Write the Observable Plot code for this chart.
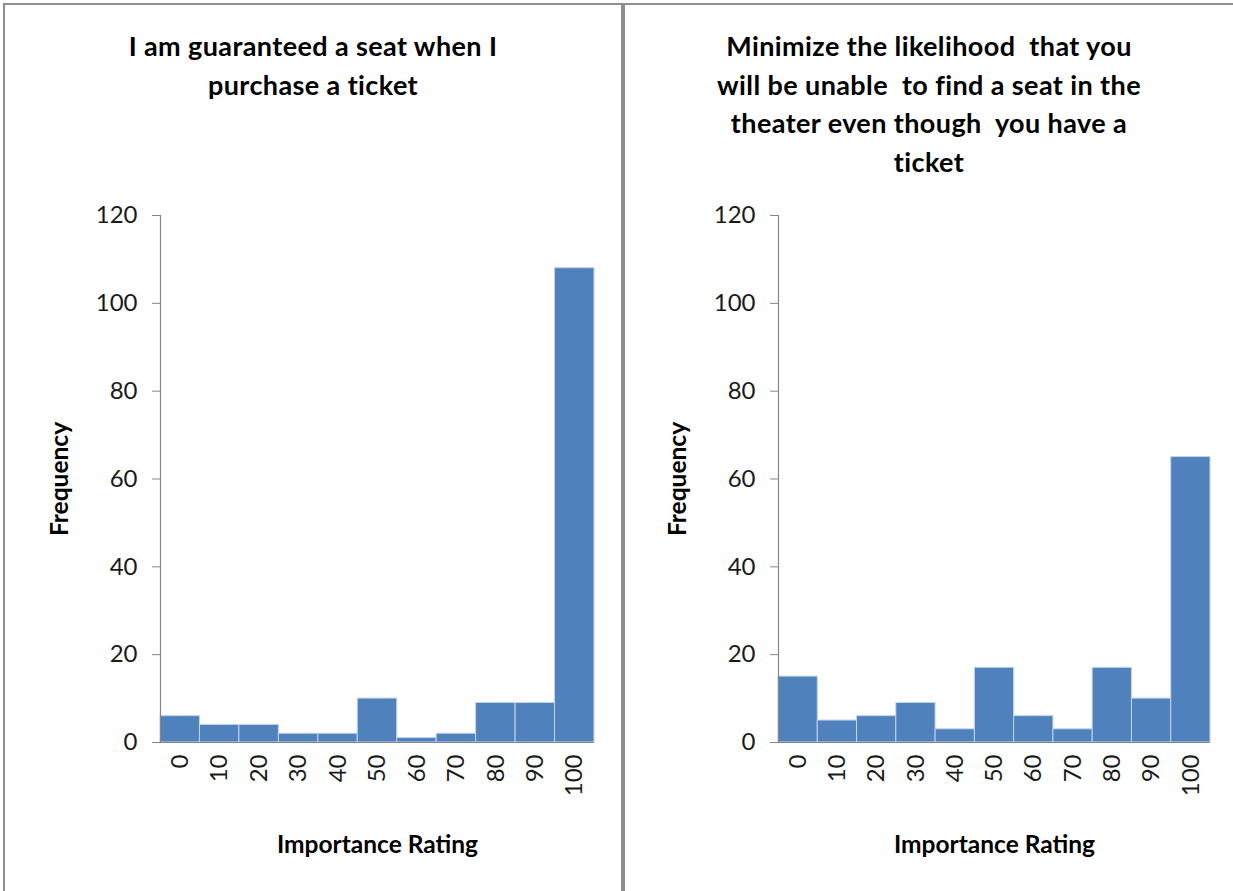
<!DOCTYPE html>
<html>
<head>
<meta charset="utf-8">
<script src="https://cdn.jsdelivr.net/npm/d3@7"></script>
<script src="https://cdn.jsdelivr.net/npm/@observablehq/plot@0.6"></script>
<style>
  html, body { margin: 0; padding: 0; background: #fff; width: 1233px; height: 891px; overflow: hidden; }
  .panel {
    position: absolute; top: 3px; height: 900px; box-sizing: border-box;
    border: 2px solid #8e8e8e; background: #fff; overflow: hidden;
  }
  .title {
    height: 190px; box-sizing: border-box; padding-top: 22px;
    font-family: Lato, "Open Sans", sans-serif; font-weight: bold; font-size: 27px;
    letter-spacing: 0.4px; line-height: 38.5px; text-align: center; color: #000;
  }
  .panel svg { display: block; }
</style>
</head>
<body>
<div id="left" class="panel" style="left:3px; width:620px;">
  <div class="title">I am guaranteed a seat when I<br>purchase a ticket</div>
</div>
<div id="right" class="panel" style="left:623px; width:612px;">
  <div class="title">Minimize the likelihood &nbsp;that you<br>will be unable &nbsp;to find a seat in the<br>theater even though &nbsp;you have a<br>ticket</div>
</div>
<script>
// Importance rating bins (0–100 in steps of 10)
const ratings = [0, 10, 20, 30, 40, 50, 60, 70, 80, 90, 100];
// Frequencies: "I am guaranteed a seat when I purchase a ticket"
const seatGuaranteed = [6, 4, 4, 2, 2, 10, 1, 2, 9, 9, 108];
// Frequencies: "Minimize the likelihood that you will be unable to find a seat..."
const findSeat = [15, 5, 6, 9, 3, 17, 6, 3, 17, 10, 65];
// Frequency axis ticks
const yTicks = [0, 20, 40, 60, 80, 100, 120];

function histogram(counts, {width, marginLeft, marginRight}) {
  const data = ratings.map((r, i) => ({rating: r, count: counts[i]}));
  return Plot.plot({
    width,
    height: 696,
    marginTop: 20,
    marginBottom: 149,
    marginLeft,
    marginRight,
    style: {fontFamily: "Lato, 'Open Sans', sans-serif", fontSize: "24px", color: "#1a1a1a", background: "white", overflow: "visible"},
    x: {domain: [-5, 105]},
    y: {domain: [0, 120]},
    marks: [
      Plot.rect(data, {
        x1: d => d.rating - 5, x2: d => d.rating + 5, y1: 0, y2: "count",
        fill: "#4f81bd", stroke: "#c3d3ea", strokeWidth: 1
      }),
      Plot.ruleX([-5], {stroke: "#868686", strokeWidth: 1.2}),
      Plot.ruleY([0], {stroke: "#868686", strokeWidth: 1.2}),
      Plot.axisY({ticks: yTicks, tickSize: 8, tickPadding: 15, label: null, stroke: "#868686", fontSize: 24}),
      Plot.axisX({ticks: ratings, tickSize: 0, tickPadding: 12, tickRotate: -90, label: null, fontSize: 24}),
      Plot.text(["Frequency"], {frameAnchor: "left", dx: -100, rotate: -90, textAnchor: "middle", lineAnchor: "middle", fontWeight: "bold", fontSize: 24.5, fill: "#000"}),
      Plot.text(["Importance Rating"], {frameAnchor: "bottom", dy: 103, textAnchor: "middle", lineAnchor: "middle", fontWeight: "bold", fontSize: 24.5, fill: "#000"})
    ]
  });
}

document.getElementById("left").append(
  histogram(seatGuaranteed, {width: 616, marginLeft: 155, marginRight: 27})
);
document.getElementById("right").append(
  histogram(findSeat, {width: 608, marginLeft: 153, marginRight: 23})
);
</script>
</body>
</html>
